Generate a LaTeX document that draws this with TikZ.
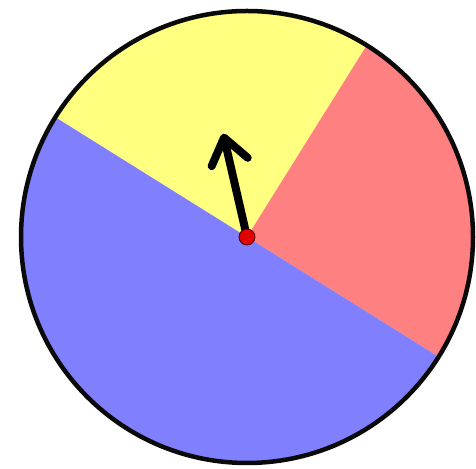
\documentclass[tikz,border=0pt]{standalone}
\usepackage{tikz}
\usepackage{xcolor}
\usetikzlibrary{arrows.meta,calc}
\definecolor{wedgeyellow}{HTML}{FFFF80}
\definecolor{wedgered}   {HTML}{FF8080}
\definecolor{wedgeblue}  {HTML}{8080FF}
\definecolor{rim}        {HTML}{0A0A0A}
\definecolor{hubred}     {HTML}{E00000}

\begin{document}
\begin{tikzpicture}[x=0.02cm,y=0.02cm,
    pointer/.style={line width=0.16cm,line cap=round,
        -{Straight Barb[length=0.5cm,width=0.74cm,line cap=round,round]}}]
  \useasboundingbox (0,0) rectangle (476,469);
  \coordinate (hub) at (247,232);
  % the three sectors
  \fill[wedgeyellow] (hub) -- ++(58:226) arc[start angle=58,end angle=148,radius=226] -- cycle;
  \fill[wedgered] (hub) -- ++(-32:226) arc[start angle=-32,end angle=58,radius=226] -- cycle;
  \fill[wedgeblue] (hub) -- ++(148:226) arc[start angle=148,end angle=328,radius=226] -- cycle;
  \draw[rim,line width=0.09cm] (hub) circle[radius=226];
  % spinner
  \coordinate (tip) at ($(hub)+(103:106)$);
  \draw[pointer] (hub) -- (tip);
  \node[circle,fill=hubred,draw=black!70!red,line width=0.5pt,
        minimum size=0.32cm,inner sep=0pt] (pin) at (hub) {};
\end{tikzpicture}
\end{document}
